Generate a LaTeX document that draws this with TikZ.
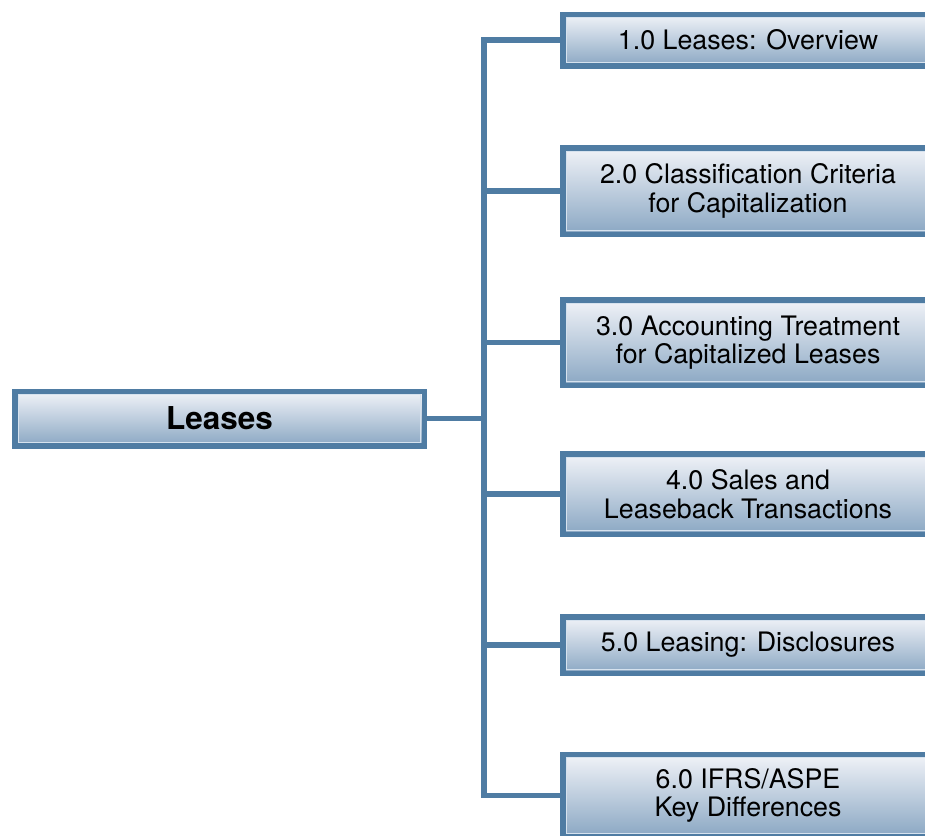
\documentclass[tikz,border=0pt]{standalone}
\usepackage{fontspec}
\setmainfont{TeX Gyre Heros}
\definecolor{frame}{RGB}{79,124,163}
\definecolor{shadetop}{RGB}{241,243,248}
\definecolor{shadebot}{RGB}{138,167,195}
\definecolor{rim}{RGB}{214,226,238}
\tikzset{
  topic/.style={draw=frame, line width=5.5pt, inner sep=0pt, align=center,
    top color=shadetop, bottom color=shadebot,
    font=\fontsize{26.8}{28.5}\selectfont,
    path picture={\draw[rim, line width=1pt]
      ([xshift=3.3pt,yshift=-3.3pt]path picture bounding box.north west) rectangle
      ([xshift=-3.3pt,yshift=3.3pt]path picture bounding box.south east);}},
  conn/.style={draw=frame, line width=5.5pt, line cap=rect}
}
\begin{document}
\begin{tikzpicture}[x=1pt,y=-1pt]
  \useasboundingbox (0,0) rectangle (925,835);
  \clip (0,0) rectangle (925,835);

  % central topic
  \node[topic, minimum width=409.5pt, minimum height=54.5pt,
        font=\fontsize{31.5}{34}\selectfont\bfseries] (leases) at (219.5,418.5) {Leases};

  % chapter boxes (they run past the right margin)
  \node[topic, minimum width=370.5pt, minimum height=51.5pt] (b1) at (748,40) {1.0 Leases:\hspace{0.37em}Overview};
  \node[topic, minimum width=370.5pt, minimum height=86.5pt] (b2) at (748,191) {2.0 Classification Criteria\\for Capitalization};
  \node[topic, minimum width=370.5pt, minimum height=85.5pt] (b3) at (748,342.5) {3.0 Accounting Treatment\\for Capitalized Leases};
  \node[topic, minimum width=370.5pt, minimum height=80.5pt] (b4) at (748,494) {4.0 Sales and\\Leaseback Transactions};
  \node[topic, minimum width=370.5pt, minimum height=56.5pt] (b5) at (748,645) {5.0 Leasing:\hspace{0.37em}Disclosures};
  \node[topic, minimum width=370.5pt, minimum height=82.5pt] (b6) at (748,795.5) {6.0 IFRS/ASPE\\Key Differences};

  % tree connectors
  \coordinate (trunk) at (484,0);
  \draw[conn] (b1.west -| trunk) -- (b6.west -| trunk);
  \draw[conn] (leases.east) -- (leases.east -| trunk);
  \foreach \b in {b1,b2,b3,b4,b5,b6}
    \draw[conn] (\b.west -| trunk) -- (\b.west);
\end{tikzpicture}
\end{document}
